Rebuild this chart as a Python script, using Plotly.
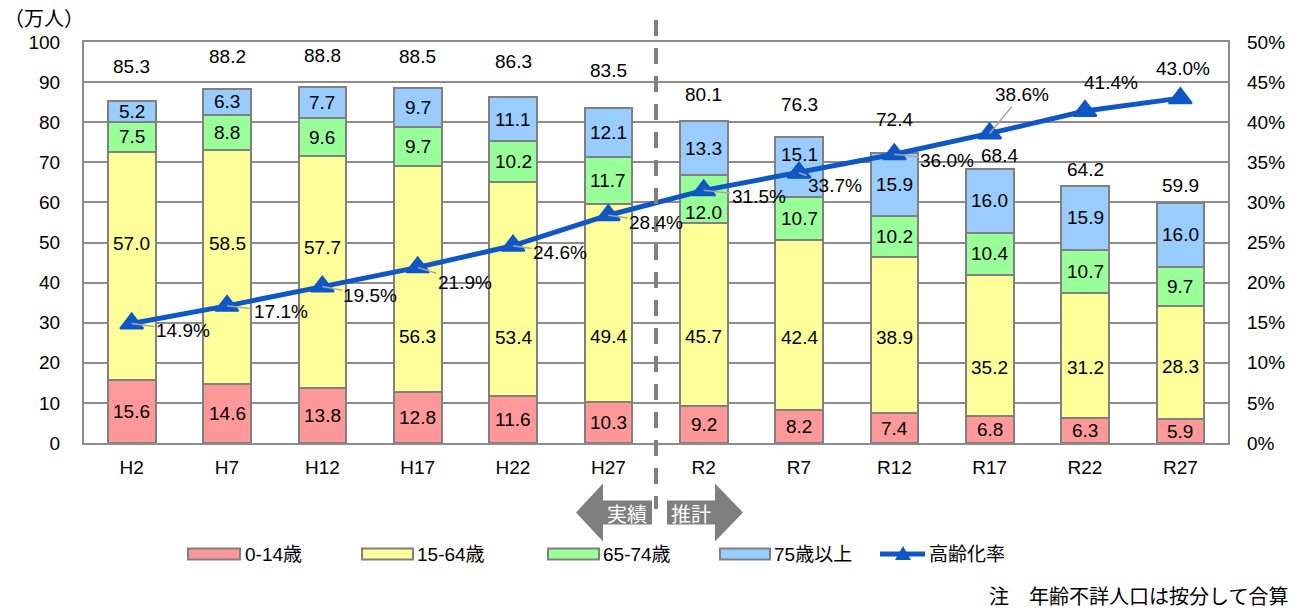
import plotly.graph_objects as go

# 年次
years = ["H2", "H7", "H12", "H17", "H22", "H27", "R2", "R7", "R12", "R17", "R22", "R27"]

# 年齢3区分別人口（万人）
pop_0_14 = [15.6, 14.6, 13.8, 12.8, 11.6, 10.3, 9.2, 8.2, 7.4, 6.8, 6.3, 5.9]
pop_15_64 = [57.0, 58.5, 57.7, 56.3, 53.4, 49.4, 45.7, 42.4, 38.9, 35.2, 31.2, 28.3]
pop_65_74 = [7.5, 8.8, 9.6, 9.7, 10.2, 11.7, 12.0, 10.7, 10.2, 10.4, 10.7, 9.7]
pop_75_over = [5.2, 6.3, 7.7, 9.7, 11.1, 12.1, 13.3, 15.1, 15.9, 16.0, 15.9, 16.0]

# 総人口（万人）
totals = [85.3, 88.2, 88.8, 88.5, 86.3, 83.5, 80.1, 76.3, 72.4, 68.4, 64.2, 59.9]

# 高齢化率（%）
aging_rate = [14.9, 17.1, 19.5, 21.9, 24.6, 28.4, 31.5, 33.7, 36.0, 38.6, 41.4, 43.0]

series_names = ["0-14歳", "15-64歳", "65-74歳", "75歳以上"]
series_values = [pop_0_14, pop_15_64, pop_65_74, pop_75_over]
series_colors = ["#FF9999", "#FFFF99", "#99FF99", "#99CCFF"]

LINE_BLUE = "#0F56C6"
GRID = "#8C8C8C"
EDGE = "#808080"
FONT = "Liberation Sans, Noto Sans CJK JP, sans-serif"
JFONT = "Noto Sans CJK JP, sans-serif"

W, H = 1298, 610
L, R, T, B = 84, 70, 42, 167
PW, PH = W - L - R, H - T - B


def px(x):
    return (x - L) / PW


def py(y):
    return (H - B - y) / PH


fig = go.Figure()

for name, vals, col in zip(series_names, series_values, series_colors):
    fig.add_trace(go.Bar(
        x=years, y=vals, name=name,
        marker=dict(color=col, line=dict(color=EDGE, width=2)),
        width=0.5,
        showlegend=False,
    ))

fig.add_trace(go.Scatter(
    x=years, y=[r / 100 for r in aging_rate], yaxis="y2",
    mode="lines+markers", name="高齢化率",
    line=dict(color=LINE_BLUE, width=5),
    marker=dict(symbol="triangle-up", size=20, color=LINE_BLUE,
                line=dict(color=LINE_BLUE, width=2)),
    showlegend=False,
))

annotations = []

# 区分別の値ラベル：既定は区間の中央、折れ線と重なるものはピクセル単位でずらす（上が正）
label_shift = {
    (1, 0): 23, (1, 1): 24, (1, 2): 24,
    (1, 3): -58, (1, 4): -48, (1, 5): -34, (1, 6): -22, (1, 7): -12, (1, 8): -2,
    (1, 9): -22, (1, 10): -12, (1, 11): -4,
    (2, 6): -14, (3, 7): 12,
}
for si, vals in enumerate(series_values):
    for ci, (yr, v) in enumerate(zip(years, vals)):
        base = sum(series_values[k][ci] for k in range(si))
        annotations.append(dict(
            x=yr, y=base + v / 2, xref="x", yref="y", text=f"{v:.1f}",
            showarrow=False, yshift=label_shift.get((si, ci), 0),
            font=dict(family=FONT, size=19, color="black"),
        ))

# 総人口ラベル（棒の上）
total_offsets = [(0, 34), (0, 33), (0, 31), (0, 32), (0, 35), (0, 38),
                 (0, 27), (0, 33), (0, 33), (10, 13), (0, 16), (0, 17)]
for yr, tot, (dx, dy) in zip(years, totals, total_offsets):
    annotations.append(dict(
        x=yr, y=tot, xref="x", yref="y", text=f"{tot:.1f}", showarrow=False,
        xshift=dx, yshift=dy, font=dict(family=FONT, size=19, color="black"),
    ))

# 高齢化率ラベル（引出線つき）
rate_offsets = [(51, 7, True), (54, 6, True), (48, 9, True), (47, 15, True),
                (47, 7, True), (48, 7, True), (55, 6, True), (36, 13, True),
                (53, 6, True), (32, -39, True), (26, -28, False), (3, -30, False)]
for yr, rate, (dx, dy, leader) in zip(years, aging_rate, rate_offsets):
    a = dict(x=yr, y=rate / 100, xref="x", yref="y2", text=f"{rate:.1f}%",
             font=dict(family=FONT, size=19, color="black"))
    if leader:
        a.update(showarrow=True, ax=dx, ay=dy, arrowhead=0, arrowwidth=1.5,
                 arrowcolor="#A6A6A6", standoff=0)
    else:
        a.update(showarrow=False, xshift=dx, yshift=-dy)
    annotations.append(a)


def paper_text(x, y, text, size=19, color="black", family=FONT, anchor="center"):
    annotations.append(dict(x=px(x), y=py(y), xref="paper", yref="paper",
                            xanchor=anchor, yanchor="middle", text=text, showarrow=False,
                            borderpad=0,
                            font=dict(family=family, size=size, color=color)))


# 単位
paper_text(3, 18, "（万人）", size=20, family=JFONT, anchor="left")

shapes = []

# 実績／推計の境界線
shapes.append(dict(type="line", xref="paper", yref="paper",
                   x0=0.5, x1=0.5, y0=py(20), y1=py(509),
                   line=dict(color=EDGE, width=4, dash="16px,12px")))


def poly(points):
    return "M " + " L ".join(f"{px(x):.5f},{py(y):.5f}" for x, y in points) + " Z"


cy = 512.5
shapes.append(dict(type="path", xref="paper", yref="paper", fillcolor="#7F7F7F",
                   line=dict(width=0),
                   path=poly([(576, cy), (603, cy - 29), (603, cy - 12), (652, cy - 12),
                              (652, cy + 12), (603, cy + 12), (603, cy + 29)])))
shapes.append(dict(type="path", xref="paper", yref="paper", fillcolor="#7F7F7F",
                   line=dict(width=0),
                   path=poly([(667, cy - 12), (715, cy - 12), (715, cy - 29), (743, cy),
                              (715, cy + 29), (715, cy + 12), (667, cy + 12)])))
paper_text(627, 513, "実績", size=20, color="white", family=JFONT)
paper_text(691, 513, "推計", size=20, color="white", family=JFONT)

# 凡例
legend_y = 554
swatches = [(188, 240, 244), (362, 413, 416), (548, 599, 602), (720, 770, 773)]
for (x0, x1, tx), name, col in zip(swatches, series_names, series_colors):
    shapes.append(dict(type="rect", xref="paper", yref="paper",
                       x0=px(x0), x1=px(x1), y0=py(legend_y - 5.5), y1=py(legend_y + 5.5),
                       fillcolor=col, line=dict(color=EDGE, width=2)))
    paper_text(tx, legend_y, name, anchor="left")
shapes.append(dict(type="line", xref="paper", yref="paper",
                   x0=px(880), x1=px(925), y0=py(legend_y), y1=py(legend_y),
                   line=dict(color=LINE_BLUE, width=5)))
shapes.append(dict(type="path", xref="paper", yref="paper", fillcolor=LINE_BLUE,
                   line=dict(width=0),
                   path=poly([(895, legend_y + 6), (911, legend_y + 6), (903, legend_y - 8)])))
paper_text(928, legend_y, "高齢化率", anchor="left")

# 注記
paper_text(1289, 595, "注　年齢不詳人口は按分して合算", size=20, family=JFONT, anchor="right")

fig.update_layout(
    width=W, height=H,
    margin=dict(l=L, r=R, t=T, b=B, pad=0),
    paper_bgcolor="white", plot_bgcolor="white",
    barmode="stack",
    font=dict(family=FONT, size=19, color="black"),
    xaxis=dict(
        type="category", range=[-0.5, len(years) - 0.5], showgrid=False,
        ticks="", ticklabelstandoff=6,
        showline=True, linecolor=GRID, linewidth=2, mirror=True,
        tickfont=dict(family=FONT, size=19, color="black"),
    ),
    yaxis=dict(
        range=[0, 100], dtick=10, showgrid=True, gridcolor=GRID, gridwidth=2,
        showline=True, linecolor=GRID, linewidth=2, mirror=True,
        ticks="", ticklabelstandoff=18, zeroline=False,
        tickfont=dict(family=FONT, size=19, color="black"),
    ),
    yaxis2=dict(
        range=[0, 0.5], dtick=0.05, tickformat=".0%", overlaying="y", side="right",
        showgrid=False, zeroline=False, showline=False, ticks="", ticklabelstandoff=18,
        tickfont=dict(family=FONT, size=19, color="black"),
    ),
    annotations=annotations,
    shapes=shapes,
    showlegend=False,
)

fig.write_html("out.html")
